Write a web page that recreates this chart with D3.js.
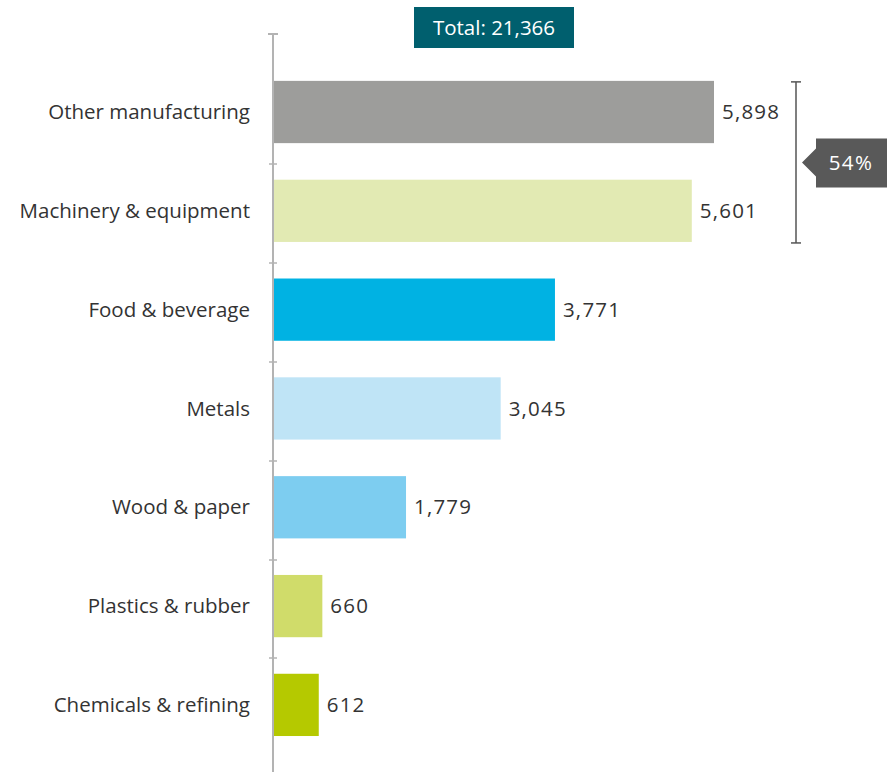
<!DOCTYPE html>
<html>
<head>
<meta charset="utf-8">
<script src="https://cdn.jsdelivr.net/npm/d3@7"></script>
<style>
  html, body { margin: 0; padding: 0; background: #fff; }
  svg { display: block; font-family: "Open Sans", "DejaVu Sans", sans-serif; }
</style>
</head>
<body>
<svg id="chart" width="887" height="772"></svg>
<script>
// Manufacturing sectors and their values
const categories = [
  "Other manufacturing",
  "Machinery & equipment",
  "Food & beverage",
  "Metals",
  "Wood & paper",
  "Plastics & rubber",
  "Chemicals & refining"
];
const values = [5898, 5601, 3771, 3045, 1779, 660, 612];
const barColors = ["#9d9d9b", "#e2eab3", "#00b2e3", "#bfe4f6", "#7dcdf0", "#d0dc6a", "#b5c900"];
const totalLabel = "Total: 21,366";
const shareLabel = "54%";
const bracketCategories = ["Other manufacturing", "Machinery & equipment"];

const svg = d3.select("#chart");
const x0 = 273;

const x = d3.scaleLinear().domain([0, 5898]).range([x0, 714]);
const y = d3.scaleBand().domain(categories).range([62.6, 754.3]).paddingInner(0.37).paddingOuter(0.185);

const fmt = d3.format(",");

// Vertical axis line with cap and band separators
svg.append("line")
  .attr("x1", x0).attr("x2", x0).attr("y1", 34).attr("y2", 772)
  .attr("stroke", "#b3b3b3").attr("stroke-width", 2);
svg.append("line")
  .attr("x1", x0 - 5).attr("x2", x0 + 5).attr("y1", 34).attr("y2", 34)
  .attr("stroke", "#b3b3b3").attr("stroke-width", 2);
categories.slice(1).forEach(c => {
  const ty = Math.round(y(c) - (y.step() - y.bandwidth()) / 2) + 3;
  svg.append("line")
    .attr("x1", x0 - 4).attr("x2", x0 + 4).attr("y1", ty).attr("y2", ty)
    .attr("stroke", "#b3b3b3").attr("stroke-width", 1.5);
});

// Bars
svg.append("g").selectAll("rect")
  .data(categories)
  .join("rect")
  .attr("x", x0 + 1)
  .attr("y", d => y(d))
  .attr("width", (d, i) => x(values[i]) - x0 - 1)
  .attr("height", y.bandwidth())
  .attr("fill", (d, i) => barColors[i]);

// Category labels
svg.append("g").selectAll("text")
  .data(categories)
  .join("text")
  .attr("x", 250)
  .attr("y", d => y(d) + y.bandwidth() / 2)
  .attr("dy", "0.35em")
  .attr("text-anchor", "end")
  .attr("font-size", 20.5)
  .attr("fill", "#333")
  .text(d => d);

// Value labels
svg.append("g").selectAll("text")
  .data(categories)
  .join("text")
  .attr("x", (d, i) => x(values[i]) + 8)
  .attr("y", d => y(d) + y.bandwidth() / 2)
  .attr("dy", "0.35em")
  .attr("font-size", 20.5)
  .attr("letter-spacing", 1.2)
  .attr("fill", "#333")
  .text((d, i) => fmt(values[i]));

// Total box
const tg = svg.append("g");
tg.append("rect").attr("x", 414).attr("y", 7).attr("width", 160).attr("height", 41).attr("fill", "#005f6e");
tg.append("text").attr("x", 494).attr("y", 27.5).attr("dy", "0.35em")
  .attr("text-anchor", "middle").attr("font-size", 20.5).attr("fill", "#fff").text(totalLabel);

// Bracket spanning the two largest sectors
const by1 = y(bracketCategories[0]) + 1;
const by2 = y(bracketCategories[1]) + y.bandwidth() + 1;
const bx = 796;
const bg = svg.append("g").attr("stroke", "#555").attr("stroke-width", 1.5);
bg.append("line").attr("x1", bx).attr("x2", bx).attr("y1", by1).attr("y2", by2);
bg.append("line").attr("x1", bx - 5).attr("x2", bx + 5).attr("y1", by1).attr("y2", by1);
bg.append("line").attr("x1", bx - 5).attr("x2", bx + 5).attr("y1", by2).attr("y2", by2);

// Share callout
const cy = (by1 + by2) / 2;
svg.append("path")
  .attr("d", `M802,${cy} L816,${cy - 14} L816,${cy - 24} L887,${cy - 24} L887,${cy + 25} L816,${cy + 25} L816,${cy + 14} Z`)
  .attr("fill", "#595959");
svg.append("text").attr("x", 851).attr("y", cy).attr("dy", "0.35em")
  .attr("text-anchor", "middle").attr("font-size", 20.5).attr("letter-spacing", 1.3)
  .attr("fill", "#fff").text(shareLabel);
</script>
</body>
</html>
